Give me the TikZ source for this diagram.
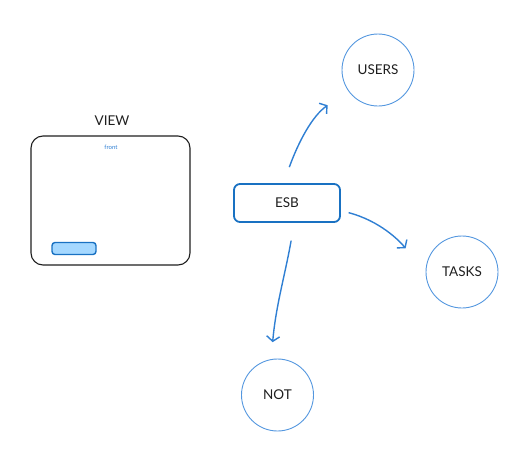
\documentclass[tikz,border=0pt]{standalone}
\usepackage{fontspec}
\setmainfont{Lato}
\usepackage{xcolor}
\usetikzlibrary{arrows.meta,shapes,calc,positioning}
\definecolor{esbblue}{HTML}{1971C2}
\definecolor{linkblue}{HTML}{2F7FD3}
\definecolor{ringblue}{HTML}{5497DF}
\definecolor{btnfill}{HTML}{A5D8FF}
\definecolor{inkdark}{HTML}{1E1E1E}

\begin{document}
\begin{tikzpicture}[x=1pt,y=-1pt]
			\tikzstyle{every node}=[font=\fontsize{13.5}{15}\selectfont, text=inkdark]
			\tikzstyle{service}=[circle, draw=ringblue, line width=0.9pt, minimum size=72pt, inner sep=0pt]
			\tikzstyle{link}=[line width=1.4pt, draw=linkblue, -{Straight Barb[length=5pt,width=13pt]}]
			\useasboundingbox (0,0) rectangle (530,466);
			\node [rectangle, rounded corners=12pt, draw=inkdark, line width=1.1pt, minimum width=159pt, minimum height=129pt, inner sep=0pt] (view) at (110.5,200.5) {};
			\node (viewlabel) at (112,121) {VIEW};
			\node [font=\fontsize{6}{7}\selectfont, text=linkblue] (front) at (111,147) {front};
			\node [rectangle, rounded corners=3pt, draw=esbblue, fill=btnfill, line width=1.4pt, minimum width=44pt, minimum height=12pt, inner sep=0pt] (button) at (74,248.5) {};
			\node [rectangle, rounded corners=6pt, draw=esbblue, line width=1.8pt, minimum width=106pt, minimum height=38pt, inner sep=0pt] (esb) at (287,203) {ESB};
			\node [service] (users) at (378,70) {USERS};
			\node [service] (tasks) at (462,272) {TASKS};
			\node [service] (not) at (277.5,395) {NOT};
			\draw [link, shorten <=17pt, shorten >=25pt] (esb.100) to[out=70, in=215] (users.215);
			\draw [link, shorten <=8pt, shorten >=31pt] (esb.-8) to[out=-15, in=130] (tasks.west);
			\draw [link, shorten <=18pt, shorten >=17pt] (esb.-70) to[out=-100, in=85] (not.100);
		\end{tikzpicture}
\end{document}
